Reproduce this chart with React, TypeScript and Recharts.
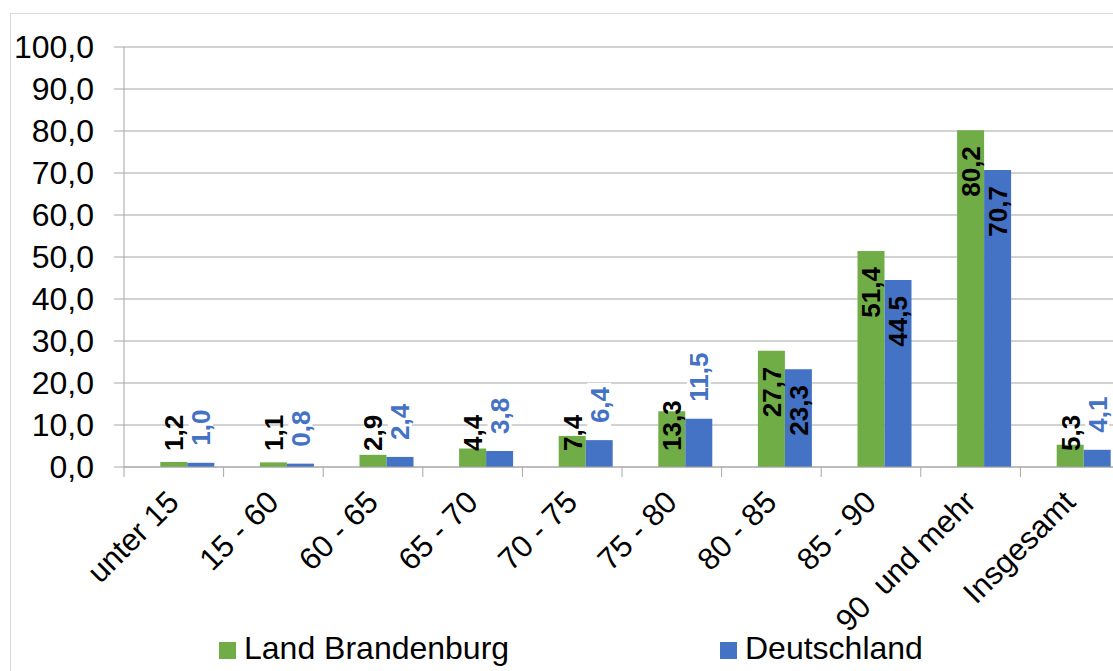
import React from 'react';
import { BarChart, Bar, XAxis, YAxis, CartesianGrid, LabelList } from 'recharts';

// Altersgruppen und Werte je Gebiet
const altersgruppen = ['unter 15', '15 - 60', '60 - 65', '65 - 70', '70 - 75', '75 - 80', '80 - 85', '85 - 90', '90  und mehr', 'Insgesamt'];
const brandenburg = [1.2, 1.1, 2.9, 4.4, 7.4, 13.3, 27.7, 51.4, 80.2, 5.3];
const deutschland = [1.0, 0.8, 2.4, 3.8, 6.4, 11.5, 23.3, 44.5, 70.7, 4.1];
const yTicks = [0, 10, 20, 30, 40, 50, 60, 70, 80, 90, 100];
const legende = ['Land Brandenburg', 'Deutschland'];

const GREEN = '#70AD47';
const BLUE = '#4472C4';
const GRID = '#a6a6a6';
const FONT = '"Liberation Sans", Arial, sans-serif';

const CHART_W = 1130;
const CHART_H = 671;
const PLOT_LEFT = 124;
const PLOT_TOP = 47;
const PLOT_BOTTOM = 467;
const PLOT_RIGHT = 1120;
const X_AXIS_H = 150;
const BAND = (PLOT_RIGHT - PLOT_LEFT) / altersgruppen.length;
const LABEL_FS = 26;

const data = altersgruppen.map((gruppe, i) => ({
  gruppe,
  brandenburg: brandenburg[i],
  deutschland: deutschland[i],
}));

const fmt = (v: number) => v.toFixed(1).replace('.', ',');

// rough text length for bold digits + one comma
const labelLength = (text: string) => ((text.length - 1) * 0.556 + 0.278) * LABEL_FS;

// vertical value labels: inside the bar top when there is room, otherwise above
const makeLabel = (color: string, aboveBar: boolean) => (props: any) => {
  const { x, y, width, height, value } = props;
  const text = fmt(Number(value));
  const len = labelLength(text);
  const cx = Number(x) + Number(width) / 2;
  const top = Number(y);
  const inside = Number(height) >= len + 30;

  let ay = 0;
  let anchor: 'start' | 'end' = 'start';
  let fill = color;
  if (inside) {
    ay = top + 16;
    anchor = 'end';
    fill = '#000';
  } else if (aboveBar) {
    ay = top - 17;
  } else {
    ay = PLOT_BOTTOM - 16;
  }

  return (
    <g transform={`translate(${cx},${ay}) rotate(-90)`}>
      {!inside && aboveBar && (
        <rect x={-4} y={-12} width={len + 8} height={24} fill="#fff" />
      )}
      <text
        x={0}
        y={0}
        dy="0.36em"
        textAnchor={anchor}
        fontFamily={FONT}
        fontSize={LABEL_FS}
        fontWeight="bold"
        fill={fill}
      >
        {text}
      </text>
    </g>
  );
};

// category label, with the tick mark on the left border of the category
const CategoryTick = (props: any) => {
  const { x, payload, index } = props;
  const left = x - BAND / 2;
  const tx = x + 7;
  const ty = PLOT_BOTTOM + 37;
  return (
    <g>
      <line x1={left} x2={left} y1={PLOT_BOTTOM} y2={PLOT_BOTTOM + 10} stroke={GRID} />
      {index === altersgruppen.length - 1 && (
        <line x1={x + BAND / 2} x2={x + BAND / 2} y1={PLOT_BOTTOM} y2={PLOT_BOTTOM + 10} stroke={GRID} />
      )}
      <text
        x={tx}
        y={ty}
        transform={`rotate(-45, ${tx}, ${ty})`}
        textAnchor="end"
        fontFamily={FONT}
        fontSize={31}
        fill="#000"
        style={{ whiteSpace: 'pre' }}
      >
        {payload.value}
      </text>
    </g>
  );
};

const LegendItem = ({ color, label, left }: { color: string; label: string; left: number }) => (
  <div style={{ position: 'absolute', left, top: 632, display: 'flex', alignItems: 'flex-start' }}>
    <div style={{ width: 17, height: 17, background: color, marginTop: 10, marginRight: 8 }} />
    <div style={{ fontFamily: FONT, fontSize: 32, lineHeight: 1, color: '#000', whiteSpace: 'nowrap' }}>{label}</div>
  </div>
);

export default function App() {
  return (
    <div
      style={{
        position: 'fixed',
        left: 0,
        top: 0,
        width: 1113,
        height: 671,
        overflow: 'hidden',
        background: '#fff',
      }}
    >
      <div
        style={{
          position: 'absolute',
          left: 10,
          top: 13,
          width: 1200,
          height: 700,
          border: '1px solid #d9d9d9',
        }}
      />
      <div style={{ position: 'absolute', left: 0, top: 0 }}>
        <BarChart
          width={CHART_W}
          height={CHART_H}
          data={data}
          margin={{ top: PLOT_TOP, right: CHART_W - PLOT_RIGHT, left: 0, bottom: CHART_H - PLOT_BOTTOM - X_AXIS_H }}
          barCategoryGap={9.3}
          barGap={0}
        >
          <CartesianGrid vertical={false} stroke={GRID} />
          <XAxis
            dataKey="gruppe"
            interval={0}
            height={X_AXIS_H}
            axisLine={{ stroke: GRID }}
            tickLine={false}
            tick={<CategoryTick />}
          />
          <YAxis
            width={PLOT_LEFT}
            domain={[0, 100]}
            ticks={yTicks}
            interval={0}
            tickFormatter={fmt}
            axisLine={{ stroke: GRID }}
            tickLine={{ stroke: GRID }}
            tickSize={10}
            tickMargin={20}
            tick={{ fill: '#000', fontSize: 32, fontFamily: FONT }}
          />
          {/* empty slot so the two bars sit right of the category centre */}
          <Bar dataKey="luecke" fill="none" legendType="none" isAnimationActive={false} />
          <Bar dataKey="brandenburg" name={legende[0]} fill={GREEN} isAnimationActive={false}>
            <LabelList dataKey="brandenburg" content={makeLabel('#000', false)} />
          </Bar>
          <Bar dataKey="deutschland" name={legende[1]} fill={BLUE} isAnimationActive={false}>
            <LabelList dataKey="deutschland" content={makeLabel(BLUE, true)} />
          </Bar>
        </BarChart>
      </div>
      <LegendItem color={GREEN} label={legende[0]} left={219} />
      <LegendItem color={BLUE} label={legende[1]} left={720} />
    </div>
  );
}
